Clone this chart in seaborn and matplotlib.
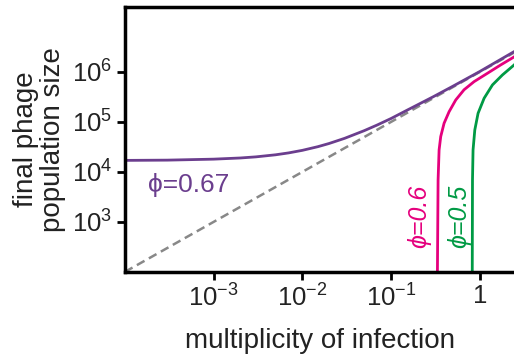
import numpy as np
import pandas as pd
import matplotlib
matplotlib.use("Agg")
import matplotlib.pyplot as plt
import seaborn as sns

# values (log-log axes)
moi_067 = [1e-4, 3e-4, 1e-3, 2e-3, 3e-3, 5e-3, 7e-3, 1e-2, 1.5e-2, 2e-2, 3e-2, 5e-2, 7e-2,
           1e-1, 1.5e-1, 2.16e-1, 3e-1, 5e-1, 1.0, 2.44, 3.0, 10.0]
size_067 = [1.7e4, 1.72e4, 1.8e4, 1.9e4, 2.0e4, 2.2e4, 2.4e4, 2.7e4, 3.2e4, 3.7e4, 4.7e4, 6.7e4, 8.7e4,
            1.17e5, 1.7e5, 2.37e5, 3.2e5, 5.2e5, 1.02e6, 2.55e6, 3.1e6, 1.0e7]

moi_06 = [0.330, 0.339, 0.348, 0.363, 0.396, 0.451, 0.536, 0.665, 0.863, 1.22, 1.72, 2.44, 3.0, 10.0]
size_06 = [1e1, 6.9e3, 2.75e4, 5.1e4, 9.4e4, 1.6e5, 2.75e5, 4.4e5, 6.4e5, 9.4e5, 1.38e6, 2.0e6, 2.7e6, 1.0e7]

moi_05 = [0.820, 0.828, 0.840, 0.879, 0.957, 1.12, 1.39, 1.80, 2.44, 3.0, 10.0]
size_05 = [1e1, 6.9e3, 2.75e4, 6.9e4, 1.49e5, 2.98e5, 5.5e5, 8.7e5, 1.38e6, 2.0e6, 1.0e7]

moi_ref = [1e-4, 10.0]
size_ref = [1e2, 1e7]

xticks = [1e-3, 1e-2, 1e-1, 1]
xticklabels = ["$10^{-3}$", "$10^{-2}$", "$10^{-1}$", "1"]
yticks = [1e3, 1e4, 1e5, 1e6]
yticklabels = ["$10^{3}$", "$10^{4}$", "$10^{5}$", "$10^{6}$"]

sns.set_theme(style="ticks")
plt.rcParams['font.family'] = ['Liberation Sans', 'DejaVu Sans']
plt.rcParams['mathtext.fontset'] = 'custom'
plt.rcParams['mathtext.rm'] = 'Liberation Sans'
plt.rcParams['mathtext.it'] = 'Liberation Sans:italic'
plt.rcParams['mathtext.default'] = 'regular'

purple = "#6b3e8e"
pink = "#e5007d"
green = "#009a44"
textcol = "#222222"

fig = plt.figure(figsize=(5.14, 3.63), dpi=100)
ax = fig.add_axes([0.243, 0.251, 0.863, 0.730])

sns.lineplot(x=moi_ref, y=size_ref, ax=ax, color="#888888", lw=1.8,
             linestyle=(0, (3.5, 2)), estimator=None, sort=False)
sns.lineplot(x=moi_067, y=size_067, ax=ax, color=purple, lw=2.0, estimator=None, sort=False)
sns.lineplot(x=moi_06, y=size_06, ax=ax, color=pink, lw=2.0, estimator=None, sort=False)
sns.lineplot(x=moi_05, y=size_05, ax=ax, color=green, lw=2.0, estimator=None, sort=False)

ax.set_xscale("log")
ax.set_yscale("log")
ax.set_xlim(1e-4, 10)
ax.set_ylim(1e2, 2e7)
ax.minorticks_off()
ax.set_xticks(xticks)
ax.set_xticklabels(xticklabels)
ax.set_yticks(yticks)
ax.set_yticklabels(yticklabels)
ax.tick_params(labelsize=18.5, length=6, width=2, color="black", labelcolor=textcol, pad=3)

for s in ax.spines.values():
    s.set_linewidth(2.5)
    s.set_color("black")

ax.set_xlabel("multiplicity of infection", fontsize=20, color=textcol, labelpad=12, x=0.44)
ax.set_ylabel("final phage\npopulation size", fontsize=20, color=textcol, labelpad=4,
              linespacing=1.05)

ax.text(1.8e-4, 5.5e3, "\u03d5=0.67", color=purple, fontsize=19, ha="left", va="center")
ax.text(0.205, 1.3e3, "\u03d5=0.6", color=pink, fontsize=18, ha="center", va="center",
        rotation=90, fontstyle="italic")
ax.text(0.58, 1.3e3, "\u03d5=0.5", color=green, fontsize=18, ha="center", va="center",
        rotation=90, fontstyle="italic")

plt.savefig("out.png", dpi=100)
